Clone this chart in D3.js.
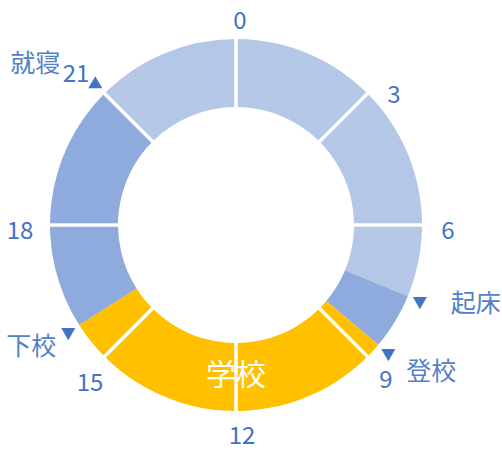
<!DOCTYPE html>
<html>
<head>
<meta charset="utf-8">
<script src="https://cdn.jsdelivr.net/npm/d3@7"></script>
<style>
  body { margin: 0; background: #fff; }
  text { font-family: "Noto Sans CJK JP", "Noto Sans", sans-serif; }
</style>
</head>
<body>
<div id="chart"></div>
<script>
// 1日のスケジュール (時刻は時間単位)
const hourTicks = [0, 3, 6, 9, 12, 15, 18, 21];
const segmentBounds = [0, 7.5, 8.67, 15.83, 21, 24];
const segmentKinds = ["sleep", "home", "school", "home", "sleep"];
const eventNames = ["起床", "登校", "下校", "就寝"];
const eventHours = [7.5, 8.67, 15.83, 21];
const schoolLabel = "学校";

const width = 502, height = 450;
const cx = 236, cy = 225;
const outerR = 186, innerR = 118;

const colors = { sleep: "#B4C7E7", home: "#8FAADC", school: "#FFC000" };
const blue = "#4472C4";

// label placement next to each marker (dx, dy, anchor, marker pointing down?)
const eventLayout = {
    "起床": { dx: 31, dy: 0, anchor: "start", down: true },
    "登校": { dx: 18, dy: 16, anchor: "start", down: true },
    "下校": { dx: -12, dy: 12, anchor: "end", down: true },
    "就寝": { dx: -35, dy: -23, anchor: "end", down: false }
};
// small nudges so the hour labels sit like the original
const hourNudge = { 0: [4, 2], 3: [8, 14], 12: [6, -7], 15: [4, 3], 18: [-4, 0], 21: [-10, -7] };

const svg = d3.select("#chart").append("svg")
    .attr("width", width)
    .attr("height", height);

const g = svg.append("g")
    .attr("transform", `translate(${cx},${cy})`);

// hours -> angle (clockwise from top)
const angle = d3.scaleLinear().domain([0, 24]).range([0, 2 * Math.PI]);

const segments = segmentKinds.map((k, i) => ({
    kind: k, start: segmentBounds[i], end: segmentBounds[i + 1]
}));

const arc = d3.arc()
    .innerRadius(innerR)
    .outerRadius(outerR)
    .startAngle(d => angle(d.start))
    .endAngle(d => angle(d.end));

g.selectAll(".seg")
    .data(segments)
    .enter().append("path")
    .attr("class", "seg")
    .attr("d", arc)
    .attr("fill", d => colors[d.kind]);

// white separators every 3 hours
g.selectAll(".sep")
    .data(hourTicks)
    .enter().append("line")
    .attr("class", "sep")
    .attr("x1", d => (innerR - 1) * Math.sin(angle(d)))
    .attr("y1", d => -(innerR - 1) * Math.cos(angle(d)))
    .attr("x2", d => (outerR + 1) * Math.sin(angle(d)))
    .attr("y2", d => -(outerR + 1) * Math.cos(angle(d)))
    .attr("stroke", "#fff")
    .attr("stroke-width", 3.5);

// hour labels
const labelR = 212;
const nudge = (d, i) => (hourNudge[d] || [0, 0])[i];
g.selectAll(".hour")
    .data(hourTicks)
    .enter().append("text")
    .attr("class", "hour")
    .attr("x", d => labelR * Math.sin(angle(d)) + nudge(d, 0))
    .attr("y", d => -labelR * Math.cos(angle(d)) + 3 + nudge(d, 1))
    .attr("text-anchor", "middle")
    .attr("dominant-baseline", "central")
    .attr("font-family", "'Open Sans', 'Noto Sans', sans-serif")
    .attr("font-size", 24)
    .attr("fill", blue)
    .text(d => d);

// event markers
const markerR = 199;
const events = eventNames.map((n, i) => ({ name: n, hour: eventHours[i] }));
const tri = d3.symbol().type(d3.symbolTriangle).size(85);

const ev = g.selectAll(".event")
    .data(events)
    .enter().append("g")
    .attr("class", "event")
    .attr("transform", d => `translate(${markerR * Math.sin(angle(d.hour))},${-markerR * Math.cos(angle(d.hour))})`);

ev.append("path")
    .attr("d", tri)
    .attr("transform", d => eventLayout[d.name].down ? "rotate(180)" : null)
    .attr("fill", blue);

ev.append("text")
    .attr("x", d => eventLayout[d.name].dx)
    .attr("y", d => eventLayout[d.name].dy)
    .attr("text-anchor", d => eventLayout[d.name].anchor)
    .attr("dominant-baseline", "central")
    .attr("font-size", 25)
    .attr("fill", "#5580C8")
    .text(d => d.name);

// label inside the school segment
g.append("text")
    .attr("x", 0)
    .attr("y", (innerR + outerR) / 2 - 5)
    .attr("text-anchor", "middle")
    .attr("dominant-baseline", "central")
    .attr("font-size", 30)
    .attr("fill", "#fff")
    .text(schoolLabel);
</script>
</body>
</html>
